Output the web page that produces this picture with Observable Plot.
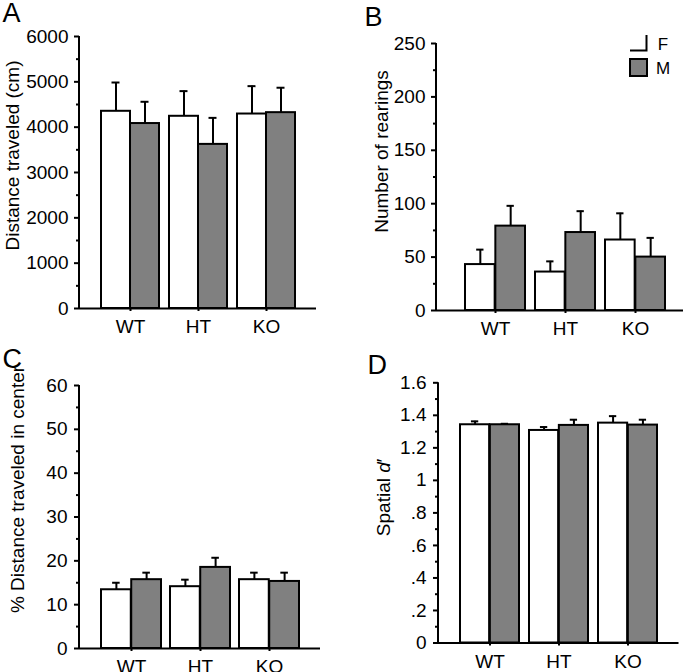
<!DOCTYPE html>
<html>
<head>
<meta charset="utf-8">
<script src="https://cdn.jsdelivr.net/npm/d3@7"></script>
<script src="https://cdn.jsdelivr.net/npm/@observablehq/plot@0.6"></script>
<style>
  html, body { margin: 0; padding: 0; background: #fff; }
  #root { position: relative; width: 685px; height: 672px; background: #fff; overflow: hidden; }
  .panel { position: absolute; }
  .panel svg { overflow: visible; }
</style>
</head>
<body>
<div id="root"></div>
<script>
// ---------- data ----------
const groups = ["WT", "HT", "KO"];
const sexes = ["F", "M"];
const sexFills = ["#ffffff", "#808080"];

// A: distance traveled (cm)
const distF = [4350, 4240, 4290];
const distFErr = [635, 555, 615];
const distM = [4080, 3620, 4320];
const distMErr = [480, 585, 550];
const distTicks = [0, 1000, 2000, 3000, 4000, 5000, 6000];
const distMinor = [500, 1500, 2500, 3500, 4500, 5500];

// B: number of rearings
const rearF = [43, 36, 66];
const rearFErr = [14, 10, 25];
const rearM = [79, 73, 50];
const rearMErr = [19, 20, 18];
const rearTicks = [0, 50, 100, 150, 200, 250];
const rearMinor = [25, 75, 125, 175, 225];

// C: % distance traveled in center
const centF = [13.4, 14.1, 15.7];
const centFErr = [1.6, 1.6, 1.6];
const centM = [15.7, 18.5, 15.3];
const centMErr = [1.6, 2.2, 2.0];
const centTicks = [0, 10, 20, 30, 40, 50, 60];
const centMinor = [5, 15, 25, 35, 45, 55];

// D: spatial d'
const dprF = [1.342, 1.307, 1.352];
const dprFErr = [0.021, 0.021, 0.043];
const dprM = [1.342, 1.338, 1.340];
const dprMErr = [0.006, 0.035, 0.033];
const dprTicks = [0, 0.2, 0.4, 0.6, 0.8, 1.0, 1.2, 1.4, 1.6];
const dprTickLabels = ["0", ".2", ".4", ".6", ".8", "1", "1.2", "1.4", "1.6"];
const dprMinor = [0.1, 0.3, 0.5, 0.7, 0.9, 1.1, 1.3, 1.5];

// ---------- drawing ----------
const FONT = "'Liberation Sans', Arial, Helvetica, sans-serif";
const root = document.getElementById("root");

function makePanel(cfg) {
  const {left, top, width, height, ml, mr, mt, mb} = cfg;
  const bw = d3.scaleBand().domain(groups).range([ml, width - mr])
    .paddingInner(cfg.pi).paddingOuter(cfg.po).align(cfg.align).bandwidth();
  const rows = groups.map((g, i) => ({group: g, F: cfg.f[i], Ferr: cfg.fe[i], M: cfg.m[i], Merr: cfg.me[i]}));
  const half = bw / 2, q = bw / 4;

  const axisLine = (index, scales, values, dims) => {
    const ln = d3.create("svg:line")
      .attr("x1", dims.marginLeft).attr("x2", dims.marginLeft)
      .attr("y1", scales.y(cfg.yDomain[0]) + 1).attr("y2", scales.y(cfg.yDomain[1]))
      .attr("stroke", "black").attr("stroke-width", 2);
    return ln.node();
  };

  const marks = [
    Plot.barY(rows, {x: "group", y: "F", fill: sexFills[0], stroke: "black", strokeWidth: 2, insetRight: half}),
    Plot.barY(rows, {x: "group", y: "M", fill: sexFills[1], stroke: "black", strokeWidth: 2, insetLeft: half}),
    Plot.ruleX(rows, {x: "group", y1: "F", y2: d => d.F + d.Ferr, dx: -q, stroke: "black", strokeWidth: 2}),
    Plot.tickY(rows, {x: "group", y: d => d.F + d.Ferr, dx: -q, insetLeft: half - 4, insetRight: half - 4, stroke: "black", strokeWidth: 2}),
    Plot.ruleX(rows, {x: "group", y1: "M", y2: d => d.M + d.Merr, dx: q, stroke: "black", strokeWidth: 2}),
    Plot.tickY(rows, {x: "group", y: d => d.M + d.Merr, dx: q, insetLeft: half - 4, insetRight: half - 4, stroke: "black", strokeWidth: 2}),
    Plot.ruleY([0], {stroke: "black", strokeWidth: 2}),
    axisLine,
    Plot.axisY({ticks: cfg.yTicks, tickSize: 5, tickPadding: cfg.tp, tickFormat: cfg.fmt, strokeWidth: 2, fontSize: 19, label: null}),
    Plot.axisY({ticks: cfg.yMinor, tickSize: 3, tickFormat: () => "", strokeWidth: 2, label: null}),
    Plot.axisX({tickSize: 3, tickPadding: 8, strokeWidth: 2, fontSize: 19, label: null}),
    Plot.text([cfg.yLabel], {text: d => d, frameAnchor: "left", textAnchor: "middle", lineAnchor: "middle", rotate: -90, dx: cfg.ldx, dy: cfg.ldy, fontSize: 19}),
    Plot.text([cfg.letter], {text: d => d, frameAnchor: "top-left", textAnchor: "start", lineAnchor: "top", dx: cfg.pdx, dy: cfg.pdy, fontSize: 27})
  ];
  if (cfg.legend) marks.push(cfg.legend);

  const chart = Plot.plot({
    width, height,
    marginLeft: ml, marginRight: mr, marginTop: mt, marginBottom: mb,
    style: {fontFamily: FONT, fontSize: "19px", color: "black", background: "transparent", overflow: "visible"},
    x: {type: "band", domain: groups, paddingInner: cfg.pi, paddingOuter: cfg.po, align: cfg.align, label: null},
    y: {domain: cfg.yDomain, label: null},
    marks
  });
  const div = document.createElement("div");
  div.className = "panel";
  div.style.left = left + "px";
  div.style.top = top + "px";
  div.appendChild(chart);
  root.appendChild(div);
  return chart;
}

const legendB = () => {
  const g = d3.create("svg:g");
  g.append("path").attr("d", "M290,50.5H306.5V35").attr("fill", "none").attr("stroke", "black").attr("stroke-width", 2);
  g.append("rect").attr("x", 290).attr("y", 59).attr("width", 17).attr("height", 17)
    .attr("fill", sexFills[1]).attr("stroke", "black").attr("stroke-width", 2);
  g.append("text").attr("x", 323).attr("y", 44).attr("dy", "0.35em").attr("font-size", 17).attr("fill", "black").text(sexes[0]);
  g.append("text").attr("x", 323).attr("y", 68).attr("dy", "0.35em").attr("font-size", 17).attr("fill", "black").text(sexes[1]);
  return g.node();
};

makePanel({
  left: 0, top: 0, width: 340, height: 336, ml: 79, mr: 24, mt: 36, mb: 28,
  pi: 0.147, po: 0.316, align: 0.51,
  f: distF, fe: distFErr, m: distM, me: distMErr,
  yDomain: [0, 6000], yTicks: distTicks, yMinor: distMinor, tp: 6, fmt: d => String(d),
  yLabel: "Distance traveled (cm)", ldx: -66.5, ldy: -17,
  letter: "A", pdx: -77, pdy: -34
});

makePanel({
  left: 340, top: 0, width: 345, height: 336, ml: 96, mr: 2, mt: 43, mb: 26,
  pi: 0.14, po: 0.32, align: 0.61,
  f: rearF, fe: rearFErr, m: rearM, me: rearMErr,
  yDomain: [0, 250], yTicks: rearTicks, yMinor: rearMinor, tp: 6, fmt: d => String(d),
  yLabel: "Number of rearings", ldx: -55, ldy: -25.5,
  letter: "B", pdx: -72, pdy: -36.5,
  legend: legendB
});

makePanel({
  left: 0, top: 336, width: 340, height: 336, ml: 79, mr: 20, mt: 49, mb: 24,
  pi: 0.136, po: 0.29, align: 0.51,
  f: centF, fe: centFErr, m: centM, me: centMErr,
  yDomain: [0, 60], yTicks: centTicks, yMinor: centMinor, tp: 7, fmt: d => String(d),
  yLabel: "% Distance traveled in center", ldx: -61.5, ldy: -27.5,
  letter: "C", pdx: -77, pdy: -37
});

const chartD = makePanel({
  left: 340, top: 336, width: 345, height: 336, ml: 98, mr: 6.5, mt: 46.3, mb: 29.5,
  pi: 0.143, po: 0.298, align: 0.5,
  f: dprF, fe: dprFErr, m: dprM, me: dprMErr,
  yDomain: [0, 1.6], yTicks: dprTicks, yMinor: dprMinor, tp: 7,
  fmt: d => { const i = dprTicks.findIndex(t => Math.abs(t - d) < 1e-9); return i >= 0 ? dprTickLabels[i] : ""; },
  yLabel: "Spatial d′", ldx: -55, ldy: -15.5,
  letter: "D", pdx: -71, pdy: -27.5
});

// italic d in "Spatial d′"
chartD.querySelectorAll("text").forEach(t => {
  if (t.textContent === "Spatial d′") {
    t.textContent = "";
    t.appendChild(document.createTextNode("Spatial "));
    const ts = document.createElementNS("http://www.w3.org/2000/svg", "tspan");
    ts.setAttribute("font-style", "italic");
    ts.textContent = "d";
    t.appendChild(ts);
    t.appendChild(document.createTextNode("′"));
  }
});
</script>
</body>
</html>
